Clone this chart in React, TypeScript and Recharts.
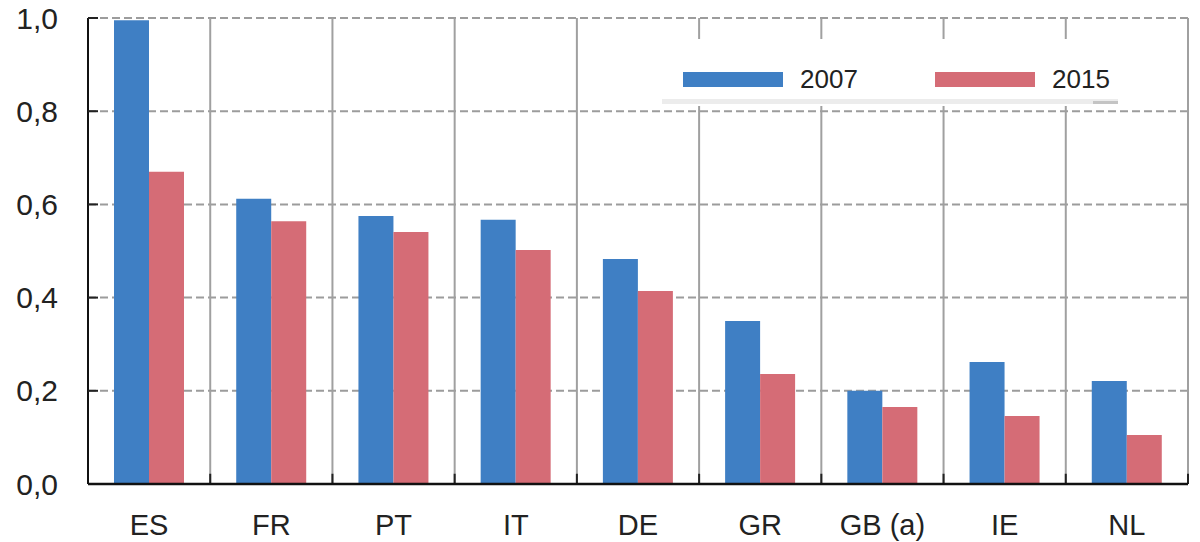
import React from 'react';
import { BarChart, Bar, XAxis, YAxis, CartesianGrid, ReferenceLine, Legend } from 'recharts';

// values
const CATEGORIES = ['ES', 'FR', 'PT', 'IT', 'DE', 'GR', 'GB (a)', 'IE', 'NL'];
const VALUES_2007 = [0.995, 0.612, 0.575, 0.567, 0.483, 0.35, 0.2, 0.262, 0.221];
const VALUES_2015 = [0.67, 0.564, 0.541, 0.502, 0.414, 0.236, 0.165, 0.146, 0.105];
const SERIES_NAMES = ['2007', '2015'];
const SERIES_COLORS = ['#3f7fc4', '#d56c76'];
const Y_TICKS = [0, 0.2, 0.4, 0.6, 0.8, 1.0];

const FONT = '"Liberation Sans", Arial, Helvetica, sans-serif';
const TICK_SIZE = 8;
const TICK_MARGIN = 22;

const data = CATEGORIES.map((name, i) => ({
  name,
  v2007: VALUES_2007[i],
  v2015: VALUES_2015[i],
}));

// y labels with a short tick pointing into the plot
const YTick = ({ x, y, payload }: any) => {
  const axisX = x + TICK_SIZE + TICK_MARGIN;
  return (
    <g>
      <text x={x} y={y} dy="0.355em" textAnchor="end" fill="#222" fontSize={30} fontFamily={FONT}>
        {payload.value.toFixed(1).replace('.', ',')}
      </text>
      {payload.value > 0 && <line x1={axisX} x2={axisX + 10} y1={y} y2={y} stroke="#222" strokeWidth={2} />}
    </g>
  );
};

const LegendBox = ({ payload }: any) => (
  <div style={{ position: 'relative', width: 465, height: 67, background: '#fff', fontFamily: FONT }}>
    {(payload || []).map((p: any, i: number) => (
      <div
        key={p.value}
        style={{ position: 'absolute', left: 28 + i * 252, top: 33, display: 'flex', alignItems: 'center', height: 15 }}
      >
        <span style={{ display: 'inline-block', width: 100, height: 15, background: p.color }} />
        <span style={{ marginLeft: 17, fontSize: 26, color: '#222', lineHeight: '15px' }}>{p.value}</span>
      </div>
    ))}
    <div style={{ position: 'absolute', left: 7, top: 60, width: 456, height: 5, background: '#ececec' }} />
    <div style={{ position: 'absolute', left: 438, top: 62, width: 25, height: 3, background: '#c4c4c4' }} />
  </div>
);

export default function App() {
  return (
    <div style={{ width: 1200, height: 542, fontFamily: FONT }}>
      <style>{'body{margin:0}'}</style>
      <BarChart
        width={1200}
        height={542}
        data={data}
        margin={{ top: 18, right: 12, bottom: 0, left: 0 }}
        barCategoryGap={26}
        barGap={0}
      >
        <CartesianGrid vertical={false} stroke="#9c9c9c" strokeWidth={2} strokeDasharray="8 4" />
        {/* solid separators on the right edge of every category band */}
        {CATEGORIES.map((c) => (
          <ReferenceLine key={'v' + c} x={c} position="end" stroke="#a0a0a0" strokeWidth={2} />
        ))}
        <XAxis
          dataKey="name"
          interval={0}
          height={58}
          tickLine={false}
          tickSize={TICK_SIZE}
          tickMargin={TICK_MARGIN}
          axisLine={{ stroke: '#111', strokeWidth: 2.5 }}
          tick={{ fill: '#222', fontSize: 29, fontFamily: FONT }}
        />
        <YAxis
          width={88}
          domain={[0, 1]}
          ticks={Y_TICKS}
          interval={0}
          tickLine={false}
          tickSize={TICK_SIZE}
          tickMargin={TICK_MARGIN}
          axisLine={{ stroke: '#111', strokeWidth: 2 }}
          tick={<YTick />}
        />
        <Bar dataKey="v2007" name={SERIES_NAMES[0]} fill={SERIES_COLORS[0]} isAnimationActive={false} />
        <Bar dataKey="v2015" name={SERIES_NAMES[1]} fill={SERIES_COLORS[1]} isAnimationActive={false} />
        {/* short dark ticks pointing up from the x axis */}
        {CATEGORIES.map((c) => (
          <ReferenceLine
            key={'xt' + c}
            position="end"
            segment={[{ x: c, y: 0 }, { x: c, y: 0.022 }]}
            stroke="#222"
            strokeWidth={2}
          />
        ))}
        <Legend
          layout="horizontal"
          verticalAlign="middle"
          align="center"
          content={<LegendBox />}
          wrapperStyle={{ left: 655, top: 39, width: 465, height: 67 }}
        />
      </BarChart>
    </div>
  );
}
